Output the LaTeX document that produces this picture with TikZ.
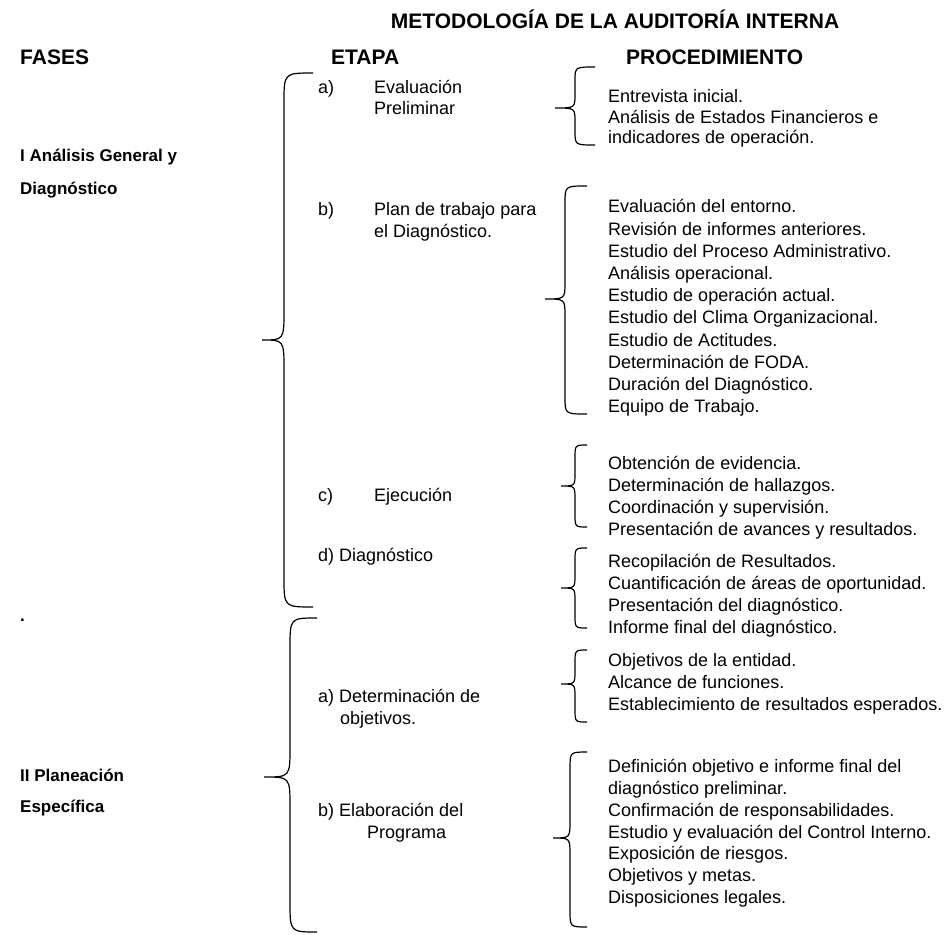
\documentclass[tikz,border=0pt]{standalone}
\usepackage{fontspec}
\setmainfont{Liberation Sans}

% curly brace: end x, line x, tip x, top y, tip y, bottom y, hook
\newcommand{\curlybrace}[7]{%
  \draw[brace] (#1,#4) .. controls (#2,#4) .. (#2,{#4+#7}) -- (#2,{#5-#7})
    .. controls (#2,#5) .. (#3,#5) .. controls (#2,#5) .. (#2,{#5+#7})
    -- (#2,{#6-#7}) .. controls (#2,#6) .. (#1,#6);}

\begin{document}
\begin{tikzpicture}[x=1pt,y=-1pt]
      \useasboundingbox (0,0) rectangle (944,934);

      \tikzstyle{title} = [
        anchor=center,
        inner sep=0pt,
        font=\fontsize{21}{25}\selectfont\bfseries
      ]
      \tikzstyle{head} = [
        anchor=west,
        inner sep=0pt,
        text height=15pt,
        text depth=0pt,
        font=\fontsize{21}{25}\selectfont\bfseries
      ]
      \tikzstyle{fase} = [
        anchor=west,
        inner sep=0pt,
        text height=12.5pt,
        text depth=3.5pt,
        font=\fontsize{17}{20}\selectfont\bfseries
      ]
      \tikzstyle{item} = [
        anchor=north west,
        inner sep=0pt,
        align=left,
        font=\fontsize{18}{21.7}\selectfont
      ]
      \tikzstyle{brace} = [line width=1.2pt, draw=black]

      % headings
      \node[title] (title) at (615,19) {METODOLOGÍA DE LA AUDITORÍA INTERNA};
      \node[head] (headFases) at (20,57) {FASES};
      \node[head] (headEtapa) at (331,57) {ETAPA};
      \node[head] (headProc) at (626,57) {PROCEDIMIENTO};

      % phases
      \node[fase] (fase1a) at (20,157) {I Análisis General y};
      \node[fase] (fase1b) at (20,190) {Diagnóstico};
      \node[fase] (faseDot) at (20,617) {.};
      \node[fase] (fase2a) at (20,777) {II Planeación};
      \node[fase] (fase2b) at (20,808) {Específica};

      % stages, phase I
      \node[item] (etapa1a) at (318,80.5) {a)};
      \node[item, font=\fontsize{18}{20.5}\selectfont] (etapa1aText) at (374,80.5) {Evaluación\\Preliminar};
      \node[item] (etapa1b) at (318,202.5) {b)};
      \node[item] (etapa1bText) at (374,202.5) {Plan de trabajo para\\el Diagnóstico.};
      \node[item] (etapa1c) at (318,488.5) {c)};
      \node[item] (etapa1cText) at (374,488.5) {Ejecución};
      \node[item] (etapa1d) at (318,548.5) {d) Diagnóstico};

      % stages, phase II
      \node[item] (etapa2a) at (318,689.5) {a) Determinación de\\\hspace*{22pt}objetivos.};
      \node[item] (etapa2b) at (318,803.5) {b) Elaboración del\\\hspace*{49pt}Programa};

      % procedures
      \node[item, font=\fontsize{18}{20.8}\selectfont] (proc1) at (608,89) {Entrevista inicial.\\Análisis de Estados Financieros e\\indicadores de operación.};
      \node[item, font=\fontsize{18}{22.2}\selectfont] (proc2) at (608,199.5) {Evaluación del entorno.\\Revisión de informes anteriores.\\Estudio del Proceso Administrativo.\\Análisis operacional.\\Estudio de operación actual.\\Estudio del Clima Organizacional.\\Estudio de Actitudes.\\Determinación de FODA.\\Duración del Diagnóstico.\\Equipo de Trabajo.};
      \node[item] (proc3) at (608,456.5) {Obtención de evidencia.\\Determinación de hallazgos.\\Coordinación y supervisión.\\Presentación de avances y resultados.};
      \node[item] (proc4) at (608,554.5) {Recopilación de Resultados.\\Cuantificación de áreas de oportunidad.\\Presentación del diagnóstico.\\Informe final del diagnóstico.};
      \node[item] (proc5) at (608,653.5) {Objetivos de la entidad.\\Alcance de funciones.\\Establecimiento de resultados esperados.};
      \node[item] (proc6) at (608,759.5) {Definición objetivo e informe final del\\diagnóstico preliminar.\\Confirmación de responsabilidades.\\Estudio y evaluación del Control Interno.\\Exposición de riesgos.\\Objetivos y metas.\\Disposiciones legales.};

      % phase braces
      \curlybrace{313}{284}{262}{73}{340}{607}{30}
      \curlybrace{317}{290}{264}{618}{777}{932}{30}

      % procedure braces
      \curlybrace{595}{575}{555}{67}{108}{145}{14}
      \curlybrace{587}{565}{545}{186}{299}{414}{17}
      \curlybrace{587}{575}{561}{445}{486}{527}{13}
      \curlybrace{587}{575}{561}{548}{588}{628}{13}
      \curlybrace{587}{575}{561}{650}{684}{722}{13}
      \curlybrace{587}{570}{553}{752}{838}{927}{17}
    \end{tikzpicture}
\end{document}
